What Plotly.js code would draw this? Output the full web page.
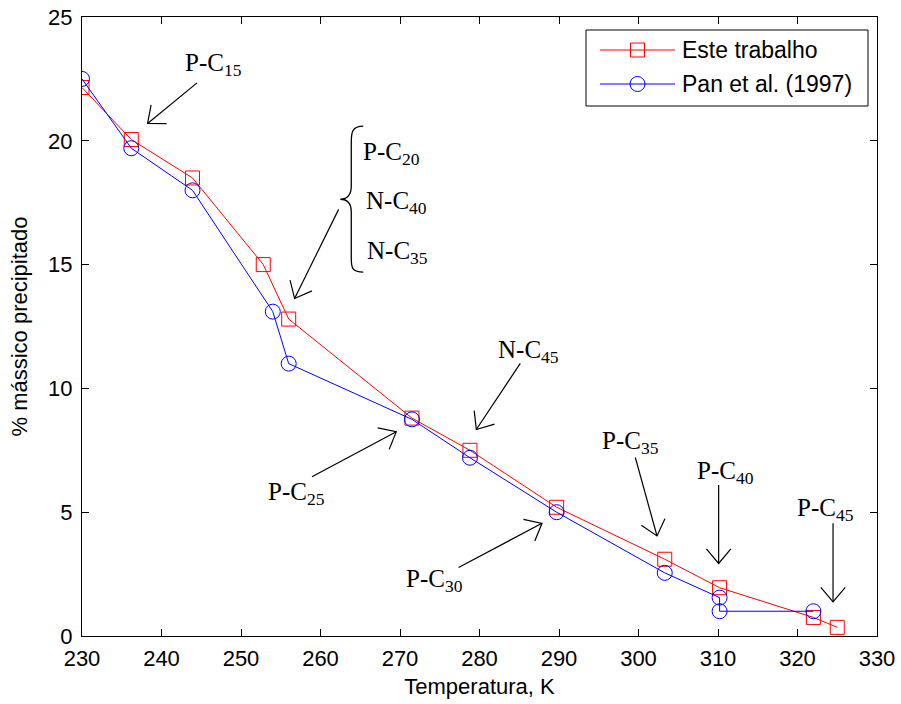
<!DOCTYPE html>
<html>
<head>
<meta charset="utf-8">
<script src="https://cdn.plot.ly/plotly-3.0.1.min.js"></script>
<style>html,body{margin:0;padding:0;background:#fff;}#chart{width:901px;height:704px;}</style>
</head>
<body>
<div id="chart"></div>
<script>
// Data
const tempEste = [230, 236.2, 243.9, 252.8, 256.0, 271.5, 278.8, 289.7, 303.3, 310.2, 322.0, 325.0];
const massEste = [22.15, 20.05, 18.5, 15.0, 12.8, 8.8, 7.5, 5.2, 3.1, 1.95, 0.75, 0.35];
const tempPan = [230, 236.2, 243.9, 254.0, 256.0, 271.5, 278.8, 289.7, 303.3, 310.2, 310.2, 322.0];
const massPan = [22.5, 19.7, 18.0, 13.1, 11.0, 8.75, 7.2, 5.0, 2.55, 1.55, 1.0, 1.0];
const seriesNames = ['Este trabalho', 'Pan et al. (1997)'];
const seriesColors = ['#ff0000', '#0000ff'];
const xTicks = [230, 240, 250, 260, 270, 280, 290, 300, 310, 320, 330];
const yTicks = [0, 5, 10, 15, 20, 25];

// Labels: text, label position, arrow tail, arrow head (data units)
const labelTexts = ['P-C<sub>15</sub>', 'P-C<sub>20</sub>', 'N-C<sub>40</sub>', 'N-C<sub>35</sub>', 'P-C<sub>25</sub>', 'N-C<sub>45</sub>', 'P-C<sub>30</sub>', 'P-C<sub>35</sub>', 'P-C<sub>40</sub>', 'P-C<sub>45</sub>'];
const labelX = [246.5, 268.9, 269.5, 269.7, 257.0, 286.1, 274.4, 299.0, 310.9, 323.5];
const labelY = [23.1, 19.5, 17.5, 15.5, 5.75, 11.5, 2.25, 7.8, 6.6, 5.1];
const arrowTailX = [244.47, 262.28, 258.93, 285.13, 277.37, 299.6, 310.08, 324.47];
const arrowTailY = [22.34, 17.23, 6.43, 11.01, 2.77, 7.21, 6.10, 4.55];
const arrowHeadX = [238.25, 256.74, 269.53, 279.6, 287.86, 302.33, 310.08, 324.47];
const arrowHeadY = [20.70, 13.63, 8.25, 8.34, 4.55, 4.04, 2.93, 1.38];

const sansFont = 'Liberation Sans, Arial, sans-serif';
const serifFont = 'Liberation Serif, Times New Roman, serif';

// plot geometry
const W = 901, H = 704, M = {l: 82, r: 24, t: 17, b: 68};
const PW = W - M.l - M.r, PH = H - M.t - M.b;
const X0 = 230, X1 = 330, Y0 = 0, Y1 = 25;
const toPx = (x, y) => [M.l + (x - X0) / (X1 - X0) * PW, M.t + PH - (y - Y0) / (Y1 - Y0) * PH];
const toData = (px, py) => [X0 + (px - M.l) / PW * (X1 - X0), Y0 + (M.t + PH - py) / PH * (Y1 - Y0)];
const paperX = px => (px - M.l) / PW;
const paperY = py => (M.t + PH - py) / PH;

const traces = [
  {x: tempEste, y: massEste, name: seriesNames[0], type: 'scatter', mode: 'lines+markers', showlegend: false,
   line: {color: seriesColors[0], width: 1},
   marker: {symbol: 'square-open', size: 14, color: seriesColors[0], line: {color: seriesColors[0], width: 1}}},
  {x: tempPan, y: massPan, name: seriesNames[1], type: 'scatter', mode: 'lines+markers', showlegend: false,
   line: {color: seriesColors[1], width: 1},
   marker: {symbol: 'circle-open', size: 15, color: seriesColors[1], line: {color: seriesColors[1], width: 1}}}
];

const annotations = [];
const shapes = [];
labelTexts.forEach((t, i) => {
  annotations.push({x: labelX[i], y: labelY[i], xref: 'x', yref: 'y', text: t, showarrow: false,
    xanchor: 'center', yanchor: 'middle', font: {family: serifFont, size: 25, color: '#000'}});
});

// arrows: shaft + open V head
const headLen = 19, headAng = 40 * Math.PI / 180;
arrowTailX.forEach((tx, i) => {
  const [tpx, tpy] = toPx(tx, arrowTailY[i]);
  const [hpx, hpy] = toPx(arrowHeadX[i], arrowHeadY[i]);
  const len = Math.hypot(hpx - tpx, hpy - tpy);
  const dx = (hpx - tpx) / len, dy = (hpy - tpy) / len;
  const arm = s => {
    const c = Math.cos(s * headAng), sn = Math.sin(s * headAng);
    const rx = dx * c - dy * sn, ry = dx * sn + dy * c;
    return toData(hpx - headLen * rx, hpy - headLen * ry);
  };
  const a1 = arm(1), a2 = arm(-1);
  shapes.push({type: 'line', xref: 'x', yref: 'y', x0: tx, y0: arrowTailY[i], x1: arrowHeadX[i], y1: arrowHeadY[i],
    line: {color: '#000', width: 1.2}});
  shapes.push({type: 'path', xref: 'x', yref: 'y', line: {color: '#000', width: 1.2},
    path: `M${a1[0]},${a1[1]} L${arrowHeadX[i]},${arrowHeadY[i]} L${a2[0]},${a2[1]}`});
});

// brace
shapes.push({type: 'path', xref: 'x', yref: 'y', line: {color: '#000', width: 1.3},
  path: 'M265.38,20.59 C264.00,20.59 263.87,20.35 263.87,19.94 L263.87,18.17 C263.87,17.80 263.37,17.64 262.49,17.64 C263.37,17.64 263.87,17.48 263.87,17.12 L263.87,15.26 C263.87,14.86 264.00,14.70 265.38,14.70'});

// legend box (MATLAB style)
const legBox = {x0: 586, x1: 868, y0: 30, y1: 106};
const legRowsY = [50, 84];
shapes.push({type: 'rect', xref: 'paper', yref: 'paper', x0: paperX(legBox.x0), x1: paperX(legBox.x1),
  y0: paperY(legBox.y1), y1: paperY(legBox.y0), line: {color: '#000', width: 1}, fillcolor: '#fff', layer: 'above'});
seriesNames.forEach((nm, i) => {
  const ry = legRowsY[i];
  shapes.push({type: 'line', xref: 'paper', yref: 'paper', x0: paperX(600), x1: paperX(675),
    y0: paperY(ry), y1: paperY(ry), line: {color: seriesColors[i], width: 1}, layer: 'above'});
  if (i === 0) {
    shapes.push({type: 'rect', xref: 'paper', yref: 'paper', x0: paperX(630.5), x1: paperX(644.5),
      y0: paperY(ry + 7), y1: paperY(ry - 7), line: {color: seriesColors[i], width: 1}, fillcolor: 'rgba(0,0,0,0)', layer: 'above'});
  } else {
    shapes.push({type: 'circle', xref: 'paper', yref: 'paper', x0: paperX(630), x1: paperX(645),
      y0: paperY(ry + 7.5), y1: paperY(ry - 7.5), line: {color: seriesColors[i], width: 1}, fillcolor: 'rgba(0,0,0,0)', layer: 'above'});
  }
  annotations.push({xref: 'paper', yref: 'paper', x: paperX(680), y: paperY(ry), text: nm, showarrow: false,
    xanchor: 'left', yanchor: 'middle', font: {family: sansFont, size: 23, color: '#000'}});
});

const axisCommon = {
  showline: true, linecolor: '#000', linewidth: 1, mirror: 'ticks',
  ticks: 'inside', ticklen: 7, tickwidth: 1, tickcolor: '#000',
  showgrid: false, zeroline: false,
  tickfont: {family: sansFont, size: 22, color: '#000'}
};

const layout = {
  width: W, height: H,
  margin: M,
  paper_bgcolor: '#fff', plot_bgcolor: '#fff',
  font: {family: sansFont, color: '#000'},
  showlegend: false,
  xaxis: Object.assign({}, axisCommon, {range: [X0, X1], tickvals: xTicks, ticktext: xTicks.map(String),
    ticklabelstandoff: 3,
    title: {text: 'Temperatura, K', font: {family: sansFont, size: 22, color: '#000'}, standoff: 8}}),
  yaxis: Object.assign({}, axisCommon, {range: [Y0, Y1], tickvals: yTicks, ticktext: yTicks.map(String),
    ticklabelstandoff: 4,
    title: {text: '% mássico precipitado', font: {family: sansFont, size: 22, color: '#000'}, standoff: 14}}),
  shapes: shapes,
  annotations: annotations
};

Plotly.newPlot('chart', traces, layout, {displayModeBar: false, staticPlot: true});
</script>
</body>
</html>
